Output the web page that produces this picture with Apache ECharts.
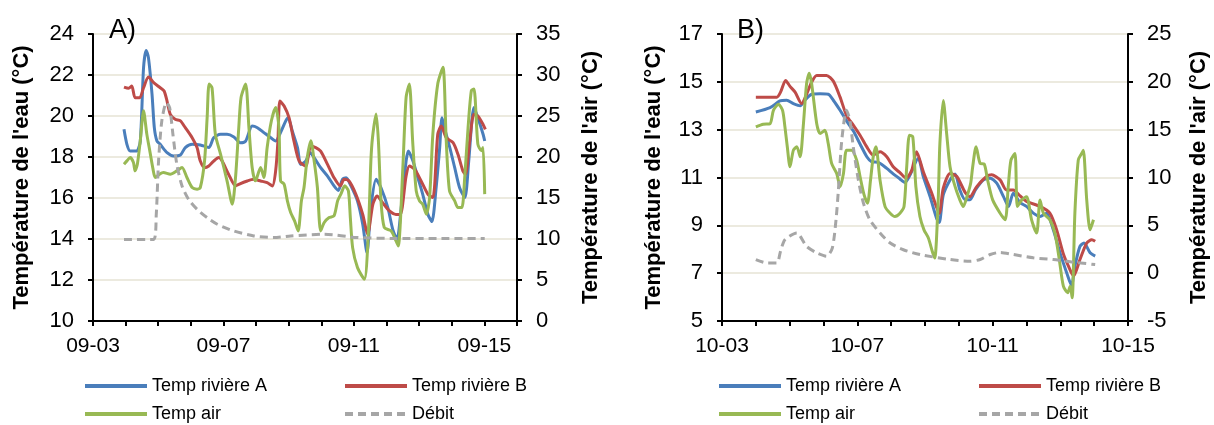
<!DOCTYPE html>
<html>
<head>
<meta charset="utf-8">
<script src="https://cdn.jsdelivr.net/npm/echarts@6/dist/echarts.min.js"></script>
<style>
html,body{margin:0;padding:0;background:#fff;}
#c{width:1214px;height:425px;}
</style>
</head>
<body>
<div id="c"></div>
<script>
// ---------- Panel A (days since 09-03) ----------
const A_tickLabels = ['09-03', '09-07', '09-11', '09-15'];
const A_rivA_d = [0.95,1.04,1.14,1.34,1.45,1.55,1.63,1.70,1.81,1.88,1.96,2.06,2.27,2.47,2.68,2.83,3.04,3.29,3.55,3.70,3.91,4.11,4.32,4.52,4.68,4.88,5.04,5.24,5.45,5.60,5.75,5.91,5.98,6.11,6.27,6.37,6.52,6.66,6.78,6.98,7.19,7.39,7.52,7.65,7.76,7.91,8.11,8.27,8.40,8.52,8.68,8.83,9.04,9.19,9.32,9.45,9.60,9.67,9.81,9.96,10.11,10.27,10.39,10.52,10.63,10.70,10.80,10.94,11.09,11.24,11.40,11.52,11.68,11.80,11.96,12.01];
const A_rivA_v = [19.35,18.62,18.29,18.29,18.78,22.36,23.2,22.85,21.06,19.43,18.78,18.62,18.21,18.05,18.10,18.46,18.62,18.59,18.46,18.94,19.11,19.11,18.98,18.70,18.78,19.51,19.43,19.19,18.94,18.78,19.19,19.76,19.92,19.27,18.46,17.64,17.80,18.21,17.97,17.48,17.07,16.59,16.37,16.91,16.99,16.59,15.85,14.72,13.33,15.53,16.91,16.50,15.53,14.47,13.98,15.53,17.80,18.29,17.80,16.99,16.18,15.20,14.85,16.50,18.46,19.92,19.27,18.46,17.48,16.50,16.02,17.80,20.41,19.92,19.11,18.78];
const A_rivB_d = [0.95,1.09,1.19,1.29,1.43,1.55,1.70,1.86,2.06,2.18,2.27,2.37,2.52,2.68,2.83,3.04,3.19,3.29,3.42,3.55,3.70,3.86,3.96,4.16,4.37,4.47,4.73,4.93,5.14,5.34,5.50,5.60,5.67,5.73,5.86,6.01,6.16,6.32,6.52,6.68,6.83,6.98,7.19,7.39,7.58,7.70,7.85,8.06,8.27,8.42,8.58,8.71,8.88,9.09,9.29,9.42,9.60,9.70,9.86,10.06,10.27,10.42,10.57,10.68,10.83,11.04,11.19,11.34,11.42,11.55,11.68,11.80,11.96,12.03];
const A_rivB_v = [21.41,21.35,21.46,20.89,20.89,21.38,21.90,21.63,21.38,21.22,20.73,20.08,19.84,19.76,19.43,18.94,18.46,17.80,17.48,17.56,17.80,17.97,17.80,17.15,16.59,16.67,16.83,16.91,16.83,16.75,16.59,17.32,18.78,20.73,20.49,19.92,18.78,17.80,17.56,18.54,18.46,18.29,17.64,16.99,16.59,16.91,16.83,16.18,15.20,14.23,15.69,16.10,15.77,15.37,15.20,15.20,17.07,17.56,17.40,16.83,16.18,16.02,19.11,19.51,18.94,18.70,18.13,17.32,17.15,18.78,20.08,20.00,19.59,19.35];
const A_air_d = [0.95,1.04,1.14,1.24,1.29,1.36,1.45,1.55,1.65,1.75,1.84,1.91,2.04,2.16,2.37,2.57,2.73,2.88,3.04,3.19,3.29,3.42,3.50,3.56,3.65,3.75,3.91,4.11,4.27,4.37,4.47,4.54,4.68,4.78,4.88,4.98,5.14,5.24,5.34,5.47,5.60,5.70,5.75,5.86,5.96,6.06,6.18,6.29,6.39,6.47,6.57,6.68,6.78,6.88,6.98,7.09,7.24,7.39,7.50,7.60,7.72,7.83,7.89,7.96,8.11,8.32,8.44,8.52,8.57,8.68,8.75,8.83,8.93,9.14,9.29,9.36,9.50,9.60,9.70,9.80,9.91,10.01,10.11,10.22,10.32,10.42,10.57,10.73,10.83,10.93,11.09,11.19,11.31,11.39,11.50,11.60,11.68,11.80,11.91,11.96,12.01];
const A_air_v = [19.13,19.53,19.94,19.33,18.31,19.13,21.98,25.64,22.79,20.55,18.52,17.50,17.91,18.11,17.91,18.31,18.72,17.50,16.28,16.08,16.28,19.53,24.83,28.90,28.41,22.79,20.35,17.09,14.24,17.50,23.60,27.27,28.90,23.60,18.72,17.09,18.72,17.50,21.16,24.42,26.05,23.60,17.09,16.69,14.65,13.23,12.21,10.99,14.65,16.28,19.94,21.98,19.53,16.28,10.99,12.01,12.62,12.82,14.65,15.47,16.48,15.87,12.62,8.95,6.51,5.09,10.58,19.53,22.38,25.23,21.98,14.65,11.40,10.99,9.77,9.16,18.72,27.27,28.90,21.98,15.87,14.65,14.24,13.02,15.06,22.79,28.90,30.93,21.98,15.87,14.65,13.84,13.84,17.09,23.60,28.08,28.29,21.57,20.76,21.16,15.47];
const A_debit_d = [0.95,1.86,1.94,2.01,2.11,2.25,2.35,2.45,2.57,2.73,2.93,3.19,3.50,3.81,4.32,4.93,5.55,6.06,7.09,8.11,9.14,10.68,12.01];
const A_debit_v = [13.98,13.98,15.20,17.80,19.76,20.65,20.41,19.11,17.64,16.59,15.93,15.45,15.04,14.72,14.39,14.15,14.07,14.15,14.23,14.07,14.03,14.03,14.03];

// ---------- Panel B (days since 10-03) ----------
const B_tickLabels = ['10-03', '10-07', '10-11', '10-15'];
const B_rivA_d = [1.00,1.42,1.71,1.91,2.11,2.31,2.45,2.65,2.90,3.14,3.29,3.49,3.68,3.88,4.08,4.28,4.42,4.62,4.87,5.06,5.26,5.41,5.56,5.80,5.95,6.15,6.34,6.42,6.54,6.74,6.89,7.03,7.19,7.33,7.49,7.73,7.93,8.12,8.32,8.47,8.61,8.81,9.00,9.20,9.40,9.59,9.79,9.99,10.19,10.33,10.43,10.58,10.70,10.88,11.03];
const B_rivA_v = [13.74,13.92,14.20,14.23,14.09,14.00,14.23,14.48,14.50,14.48,14.23,13.81,13.37,12.95,12.40,11.87,11.66,11.63,11.38,11.15,10.94,10.79,11.11,11.80,11.04,10.20,9.30,9.12,10.27,10.90,11.15,10.48,10.07,10.07,10.48,10.90,10.97,10.76,10.20,9.79,10.34,9.95,9.79,9.51,9.37,9.51,8.82,7.85,7.01,6.49,7.29,8.12,8.26,7.85,7.71];
const B_rivB_d = [1.00,1.62,1.73,1.88,2.01,2.16,2.35,2.50,2.65,2.80,3.09,3.29,3.49,3.68,3.88,4.08,4.28,4.47,4.67,4.87,5.06,5.26,5.44,5.61,5.75,5.95,6.20,6.42,6.54,6.74,6.94,7.19,7.33,7.53,7.82,7.97,8.22,8.41,8.61,8.81,9.00,9.40,9.69,9.89,10.08,10.24,10.39,10.58,10.78,10.93,11.03];
const B_rivB_v = [14.36,14.36,14.57,15.06,14.81,14.57,14.09,14.48,14.99,15.27,15.27,15.03,14.36,13.60,13.19,12.77,12.28,11.94,12.08,11.87,11.45,11.20,10.97,11.31,12.08,11.24,10.34,9.51,10.55,11.17,11.04,10.37,10.20,10.62,11.04,11.11,10.90,10.48,10.48,10.23,10.00,9.79,9.51,8.82,7.85,7.29,6.88,7.57,8.26,8.40,8.33];
const B_air_d = [1.00,1.22,1.42,1.52,1.67,1.79,1.86,1.93,2.01,2.11,2.21,2.31,2.40,2.50,2.58,2.65,2.80,2.90,3.04,3.14,3.24,3.39,3.49,3.59,3.68,3.83,3.98,4.08,4.20,4.30,4.39,4.47,4.55,4.67,4.82,4.97,5.11,5.26,5.38,5.46,5.54,5.64,5.73,5.85,5.97,6.10,6.23,6.29,6.39,6.44,6.54,6.64,6.74,6.89,7.03,7.13,7.24,7.35,7.41,7.51,7.63,7.75,7.85,8.00,8.22,8.37,8.46,8.54,8.66,8.73,8.86,9.00,9.15,9.30,9.40,9.50,9.69,9.84,9.97,10.09,10.22,10.29,10.35,10.43,10.53,10.63,10.68,10.78,10.88,10.98];
const B_air_v = [15.29,15.57,15.63,17.02,17.65,17.02,15.29,13.21,11.13,12.86,13.21,12.17,15.29,19.80,20.91,19.80,15.63,14.59,14.94,13.55,11.47,10.43,9.04,10.43,12.86,12.86,11.82,10.09,8.18,7.31,9.74,12.17,13.21,9.74,6.96,6.27,5.92,6.27,6.96,11.13,14.42,14.25,9.04,5.92,4.53,3.67,2.11,1.59,7.66,13.55,18.06,14.59,11.13,9.04,7.66,6.96,8.00,9.39,11.13,13.21,11.47,11.40,9.74,7.66,6.27,5.58,9.04,11.82,12.51,6.96,7.66,8.00,5.58,4.19,7.66,6.27,5.58,4.19,1.41,-1.36,-2.05,-1.36,-2.58,6.27,11.82,12.51,12.86,7.66,4.53,5.58];
const B_debit_d = [1.00,1.32,1.62,1.73,1.86,2.21,2.50,2.80,3.09,3.26,3.37,3.44,3.54,3.68,3.78,3.88,4.03,4.18,4.37,4.67,4.97,5.36,5.85,6.74,7.33,7.63,7.93,8.22,8.61,9.20,9.79,10.39,11.03];
const B_debit_v = [7.57,7.43,7.43,7.92,8.40,8.68,8.12,7.85,7.71,8.05,9.23,10.48,12.56,13.81,13.39,12.28,10.90,9.93,9.23,8.68,8.26,7.98,7.78,7.57,7.50,7.57,7.78,7.87,7.78,7.64,7.57,7.46,7.36];

const SERIES_NAMES = ['Temp rivière A', 'Temp rivière B', 'Temp air', 'Débit'];
const COLORS = ['#4A7EBB', '#BE4B48', '#98B954', '#A6A6A6'];

function zip(xs, ys) { return xs.map((x, i) => [x, ys[i]]); }

const FONT = 'Liberation Sans, Arial, sans-serif';
const txt = { color: '#000', fontFamily: FONT };

function xAxisFor(gridIndex, max, labels) {
  return {
    type: 'value', gridIndex: gridIndex, min: 0, max: max, interval: 1,
    axisLine: { show: true, onZero: false, lineStyle: { color: '#000', width: 2 } },
    axisTick: { show: true, length: 5, lineStyle: { color: '#000', width: 2 } },
    splitLine: { show: false },
    axisLabel: Object.assign({}, txt, {
      fontSize: 21, margin: 15,
      formatter: function (v) { return (Math.round(v) % 4 === 0) ? (labels[Math.round(v) / 4] || '') : ''; }
    })
  };
}
function yAxisFor(gridIndex, pos, min, max, interval, name, gap, split) {
  return {
    type: 'value', gridIndex: gridIndex, position: pos, min: min, max: max, interval: interval,
    name: name, nameLocation: 'middle', nameGap: gap,
    nameTextStyle: Object.assign({}, txt, { fontSize: 22, fontWeight: 'bold' }),
    axisLine: { show: true, onZero: false, lineStyle: { color: '#000', width: 2 } },
    axisTick: { show: true, length: 5, lineStyle: { color: '#000', width: 2 } },
    axisLabel: Object.assign({}, txt, { fontSize: 22, margin: 19 }),
    splitLine: { show: split, lineStyle: { color: '#E6E3D4', width: 1.5 } }
  };
}
function line(name, color, data, xi, yi, dashed) {
  return {
    type: 'line', name: name, xAxisIndex: xi, yAxisIndex: yi, data: data,
    symbol: 'none', smooth: 0.25, animation: false,
    lineStyle: { color: color, width: 3, type: dashed ? [8, 5] : 'solid' },
    itemStyle: { color: color }
  };
}
function legendItem(name, left, top) {
  return {
    data: [name], left: left, top: top, itemWidth: 62, itemHeight: 14,
    itemStyle: { opacity: 0 }, lineStyle: { width: 4 },
    textStyle: Object.assign({}, txt, { fontSize: 18 }), selectedMode: false
  };
}

const option = {
  backgroundColor: '#fff',
  animation: false,
  title: [
    { text: 'A)', left: 104, top: 12, textStyle: Object.assign({}, txt, { fontSize: 27, fontWeight: 'normal' }) },
    { text: 'B)', left: 732, top: 12, textStyle: Object.assign({}, txt, { fontSize: 27, fontWeight: 'normal' }) }
  ],
  grid: [
    { left: 93, right: 1214 - 517, top: 34, bottom: 425 - 321 },
    { left: 722, right: 1214 - 1128, top: 34, bottom: 425 - 321 }
  ],
  xAxis: [xAxisFor(0, 13, A_tickLabels), xAxisFor(1, 12, B_tickLabels)],
  yAxis: [
    yAxisFor(0, 'left', 10, 24, 2, "Température de l'eau (°C)", 60, true),
    yAxisFor(0, 'right', 0, 35, 5, "Température de l'air (°C)", 63, false),
    yAxisFor(1, 'left', 5, 17, 2, "Température de l'eau (°C)", 57, true),
    yAxisFor(1, 'right', -5, 25, 5, "Température de l'air (°C)", 60, false)
  ],
  legend: [
    legendItem(SERIES_NAMES[0], 78, 372), legendItem(SERIES_NAMES[1], 338, 372),
    legendItem(SERIES_NAMES[2], 78, 400), legendItem(SERIES_NAMES[3], 338, 400),
    legendItem(SERIES_NAMES[0], 712, 372), legendItem(SERIES_NAMES[1], 972, 372),
    legendItem(SERIES_NAMES[2], 712, 400), legendItem(SERIES_NAMES[3], 972, 400)
  ],
  series: [
    line(SERIES_NAMES[0], COLORS[0], zip(A_rivA_d, A_rivA_v), 0, 0, false),
    line(SERIES_NAMES[1], COLORS[1], zip(A_rivB_d, A_rivB_v), 0, 0, false),
    line(SERIES_NAMES[2], COLORS[2], zip(A_air_d, A_air_v), 0, 1, false),
    line(SERIES_NAMES[3], COLORS[3], zip(A_debit_d, A_debit_v), 0, 0, true),
    line(SERIES_NAMES[0], COLORS[0], zip(B_rivA_d, B_rivA_v), 1, 2, false),
    line(SERIES_NAMES[1], COLORS[1], zip(B_rivB_d, B_rivB_v), 1, 2, false),
    line(SERIES_NAMES[2], COLORS[2], zip(B_air_d, B_air_v), 1, 3, false),
    line(SERIES_NAMES[3], COLORS[3], zip(B_debit_d, B_debit_v), 1, 2, true)
  ]
};

const chart = echarts.init(document.getElementById('c'), null, { renderer: 'canvas' });
chart.setOption(option);
</script>
</body>
</html>
